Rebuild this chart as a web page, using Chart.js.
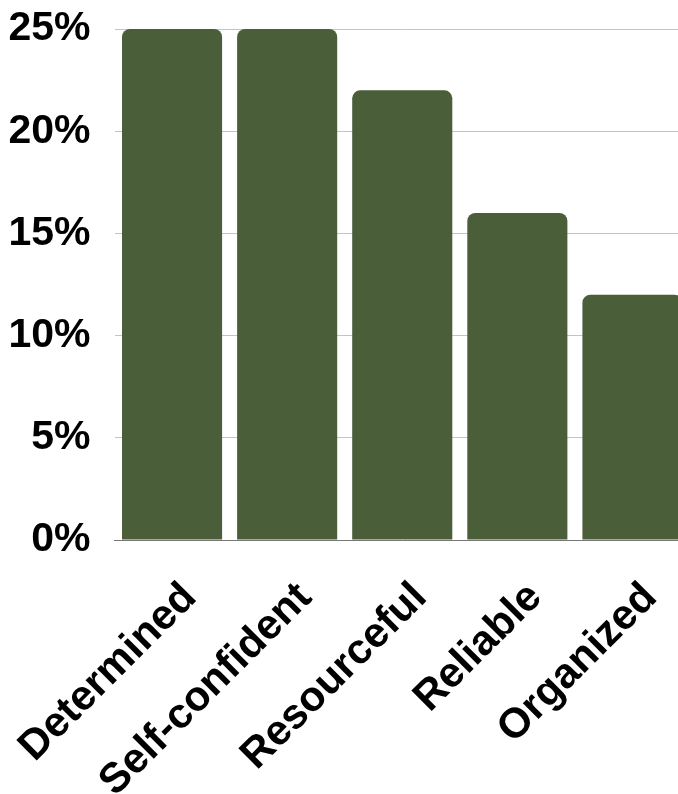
<!DOCTYPE html>
<html lang="en">
<head>
  <meta charset="UTF-8">
  <title>Traits</title>
  <script src="https://cdn.jsdelivr.net/npm/chart.js"></script>
  <style>
    html, body { margin: 0; padding: 0; background: #fff; overflow: hidden; }
    #wrap { position: relative; width: 690px; height: 794px; }
  </style>
</head>
<body>

<div id="wrap">
  <canvas id="traitChart" width="690" height="794"></canvas>
</div>

<script>
  const traits = ['Determined', 'Self-confident', 'Resourceful', 'Reliable', 'Organized'];
  const shares = [25, 25, 22, 16, 12];
  const yTicks = [0, 5, 10, 15, 20, 25];

  const yFont = { family: 'Liberation Sans, Arial, sans-serif', size: 41, weight: 'bold' };
  const xFont = { family: 'Liberation Sans, Arial, sans-serif', size: 42, weight: 'bold' };

  const ctx = document.getElementById('traitChart').getContext('2d');
  new Chart(ctx, {
    type: 'bar',
    data: {
      labels: traits,
      datasets: [{
        data: shares,
        backgroundColor: '#4a5e3a',
        borderRadius: { topLeft: 8, topRight: 8 },
        borderSkipped: 'start',
        barPercentage: 100 / 115,
        categoryPercentage: 1
      }]
    },
    options: {
      responsive: false,
      animation: false,
      layout: { padding: { top: 29, right: 0, left: 0, bottom: 0 } },
      plugins: { legend: { display: false }, tooltip: { enabled: false } },
      scales: {
        x: {
          grid: { display: false, drawTicks: false },
          border: { display: true, color: '#777', width: 1 },
          ticks: { color: '#000', font: xFont, minRotation: 45, maxRotation: 45, padding: 33, labelOffset: 18, autoSkip: false },
          afterFit: s => {
            s.height = 794 - 540;
            s.paddingLeft = 0;
            s.paddingRight = 0;
          }
        },
        y: {
          min: 0,
          max: 25,
          afterBuildTicks: s => { s.ticks = yTicks.map(v => ({ value: v })); },
          grid: { color: '#c3c3c3', lineWidth: 1, drawTicks: false },
          border: { display: false },
          ticks: { color: '#000', font: yFont, padding: 24, callback: v => v + '%' },
          afterFit: s => {
            s.width = 114.5;
            s.paddingTop = 0;
            s.paddingBottom = 0;
          }
        }
      }
    }
  });
</script>
</body>
</html>
